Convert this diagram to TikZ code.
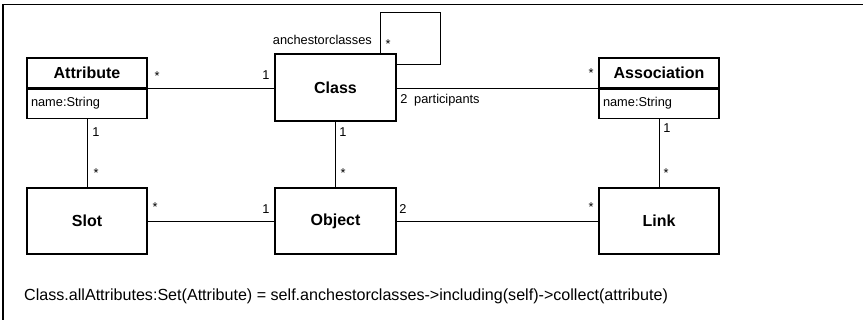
\documentclass[tikz,border=0pt]{standalone}
\usepackage{fontspec}
\setmainfont{Liberation Sans}
\begin{document}
\begin{tikzpicture}[x=1pt,y=-1pt,
  box/.style={draw,line width=1.1pt,inner sep=0pt,minimum width=120pt,
    font=\fontsize{16}{19}\selectfont\bfseries},
  comp/.style={draw,line width=1.1pt,inner xsep=4pt,inner ysep=0pt,
    minimum height=29pt,minimum width=120pt,
    font=\fontsize{12.8}{15}\selectfont},
  conn/.style={line width=0.9pt},
  mult/.style={inner sep=0pt,anchor=base,font=\fontsize{12.8}{15}\selectfont},
  note/.style={inner sep=0pt,anchor=base west,font=\fontsize{16.1}{19}\selectfont}]
\useasboundingbox (0,0) rectangle (863,320);
% frame
\draw[line width=1.1pt] (3,320) -- (3,4.5) -- (863,4.5);

% classes
\node[box,minimum height=30pt] (attr) at (87,73) {Attribute};
\node[comp,anchor=north] (attrB) at (attr.south) {\makebox[112pt][l]{name:String}};
\node[box,minimum width=121pt,minimum height=67pt] (cls) at (335.5,87.5) {Class};
\node[box,minimum height=30pt] (asc) at (659,73) {Association};
\node[comp,anchor=north] (ascB) at (asc.south) {\makebox[112pt][l]{name:String}};
\node[box,minimum height=66pt] (slot) at (87,221) {Slot};
\node[box,minimum width=121pt,minimum height=66pt] (obj) at (335.5,221) {Object};
\node[box,minimum height=66pt] (link) at (659,221) {Link};

% associations
\draw[conn] (attr.south east) -- (attr.south east -| cls.west);
\draw[conn] (asc.south west) -- (asc.south west -| cls.east);
\draw[conn] (attrB.south) -- (slot.north);
\draw[conn] (cls.south) -- (obj.north);
\draw[conn] (ascB.south) -- (link.north);
\draw[conn] (slot.east) -- (obj.west);
\draw[conn] (obj.east) -- (link.west);
\draw[conn] ([xshift=-16pt]cls.north east) -- ++(0,-41) -- ++(60,0)
  |- ([yshift=-11pt]cls.north east);

% multiplicities and role names
\node[mult,anchor=base east] (mAnc) at (372,45) {anchestorclasses};
\node[mult] (mLoop) at (388,49) {*};
\node[mult] (mAttrC) at (157,81) {*};
\node[mult] (mClsA) at (266,80) {1};
\node[mult] (mClsP) at (404,104) {2};
\node[mult,anchor=base west] (mPart) at (414,104) {participants};
\node[mult] (mAscC) at (591,78) {*};
\node[mult] (mAttrS) at (96,137) {1};
\node[mult] (mClsO) at (343,137) {1};
\node[mult] (mAscL) at (667,133) {1};
\node[mult] (mSlotA) at (96,178) {*};
\node[mult] (mObjC) at (343,178) {*};
\node[mult] (mLinkA) at (666,178) {*};
\node[mult] (mSlotO) at (155,212) {*};
\node[mult] (mObjS) at (266,214) {1};
\node[mult] (mObjL) at (403,214) {2};
\node[mult] (mLinkO) at (591,212) {*};

% constraint
\node[note] (ocl) at (24,301)
  {Class.allAttributes:Set(Attribute) = self.anchestorclasses->including(self)->collect(attribute)};
\end{tikzpicture}
\end{document}
